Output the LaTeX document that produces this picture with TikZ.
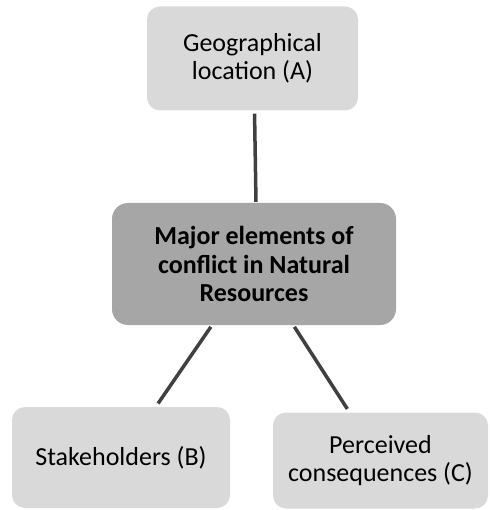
\documentclass[tikz,border=0pt]{standalone}
\usepackage{fontspec}
\setmainfont{Carlito}
\definecolor{elemgray}{HTML}{D9D9D9}
\definecolor{coregray}{HTML}{A6A6A6}
\definecolor{linkgray}{HTML}{404040}

\begin{document}
\begin{tikzpicture}[x=1pt, y=-1pt,
    elem/.style={fill=elemgray, rounded corners=13pt, align=center, inner sep=0pt,
      font=\fontsize{26}{28}\selectfont},
    link/.style={draw=linkgray, line width=3.5pt}]
  \useasboundingbox (0,0) rectangle (489,510);
  % central element
  \node[elem, fill=coregray, rounded corners=16pt, minimum width=284pt, minimum height=122pt,
    font=\bfseries\fontsize{26}{28.5}\selectfont] (core) at (254,264)
    {Major elements of\\conflict in Natural\\Resources};
  % the three elements
  \node[elem, minimum width=211pt, minimum height=104pt] (geo) at (252.5,58.5)
    {Geographical\\location (A)};
  \node[elem, minimum width=218pt, minimum height=101pt] (stake) at (121,457.5)
    {Stakeholders (B)};
  \node[elem, minimum width=215pt, minimum height=96pt] (conseq) at (380.5,460.5)
    {Perceived\\consequences (C)};
  % links
  \draw[link, shorten <=3pt, shorten >=1pt] ([xshift=2pt]geo.south) -- ([xshift=2pt]core.north);
  \draw[link, shorten <=2pt, shorten >=4pt] (core) -- (stake);
  \draw[link, shorten <=2pt, shorten >=4pt] (core) -- (conseq);
\end{tikzpicture}
\end{document}
